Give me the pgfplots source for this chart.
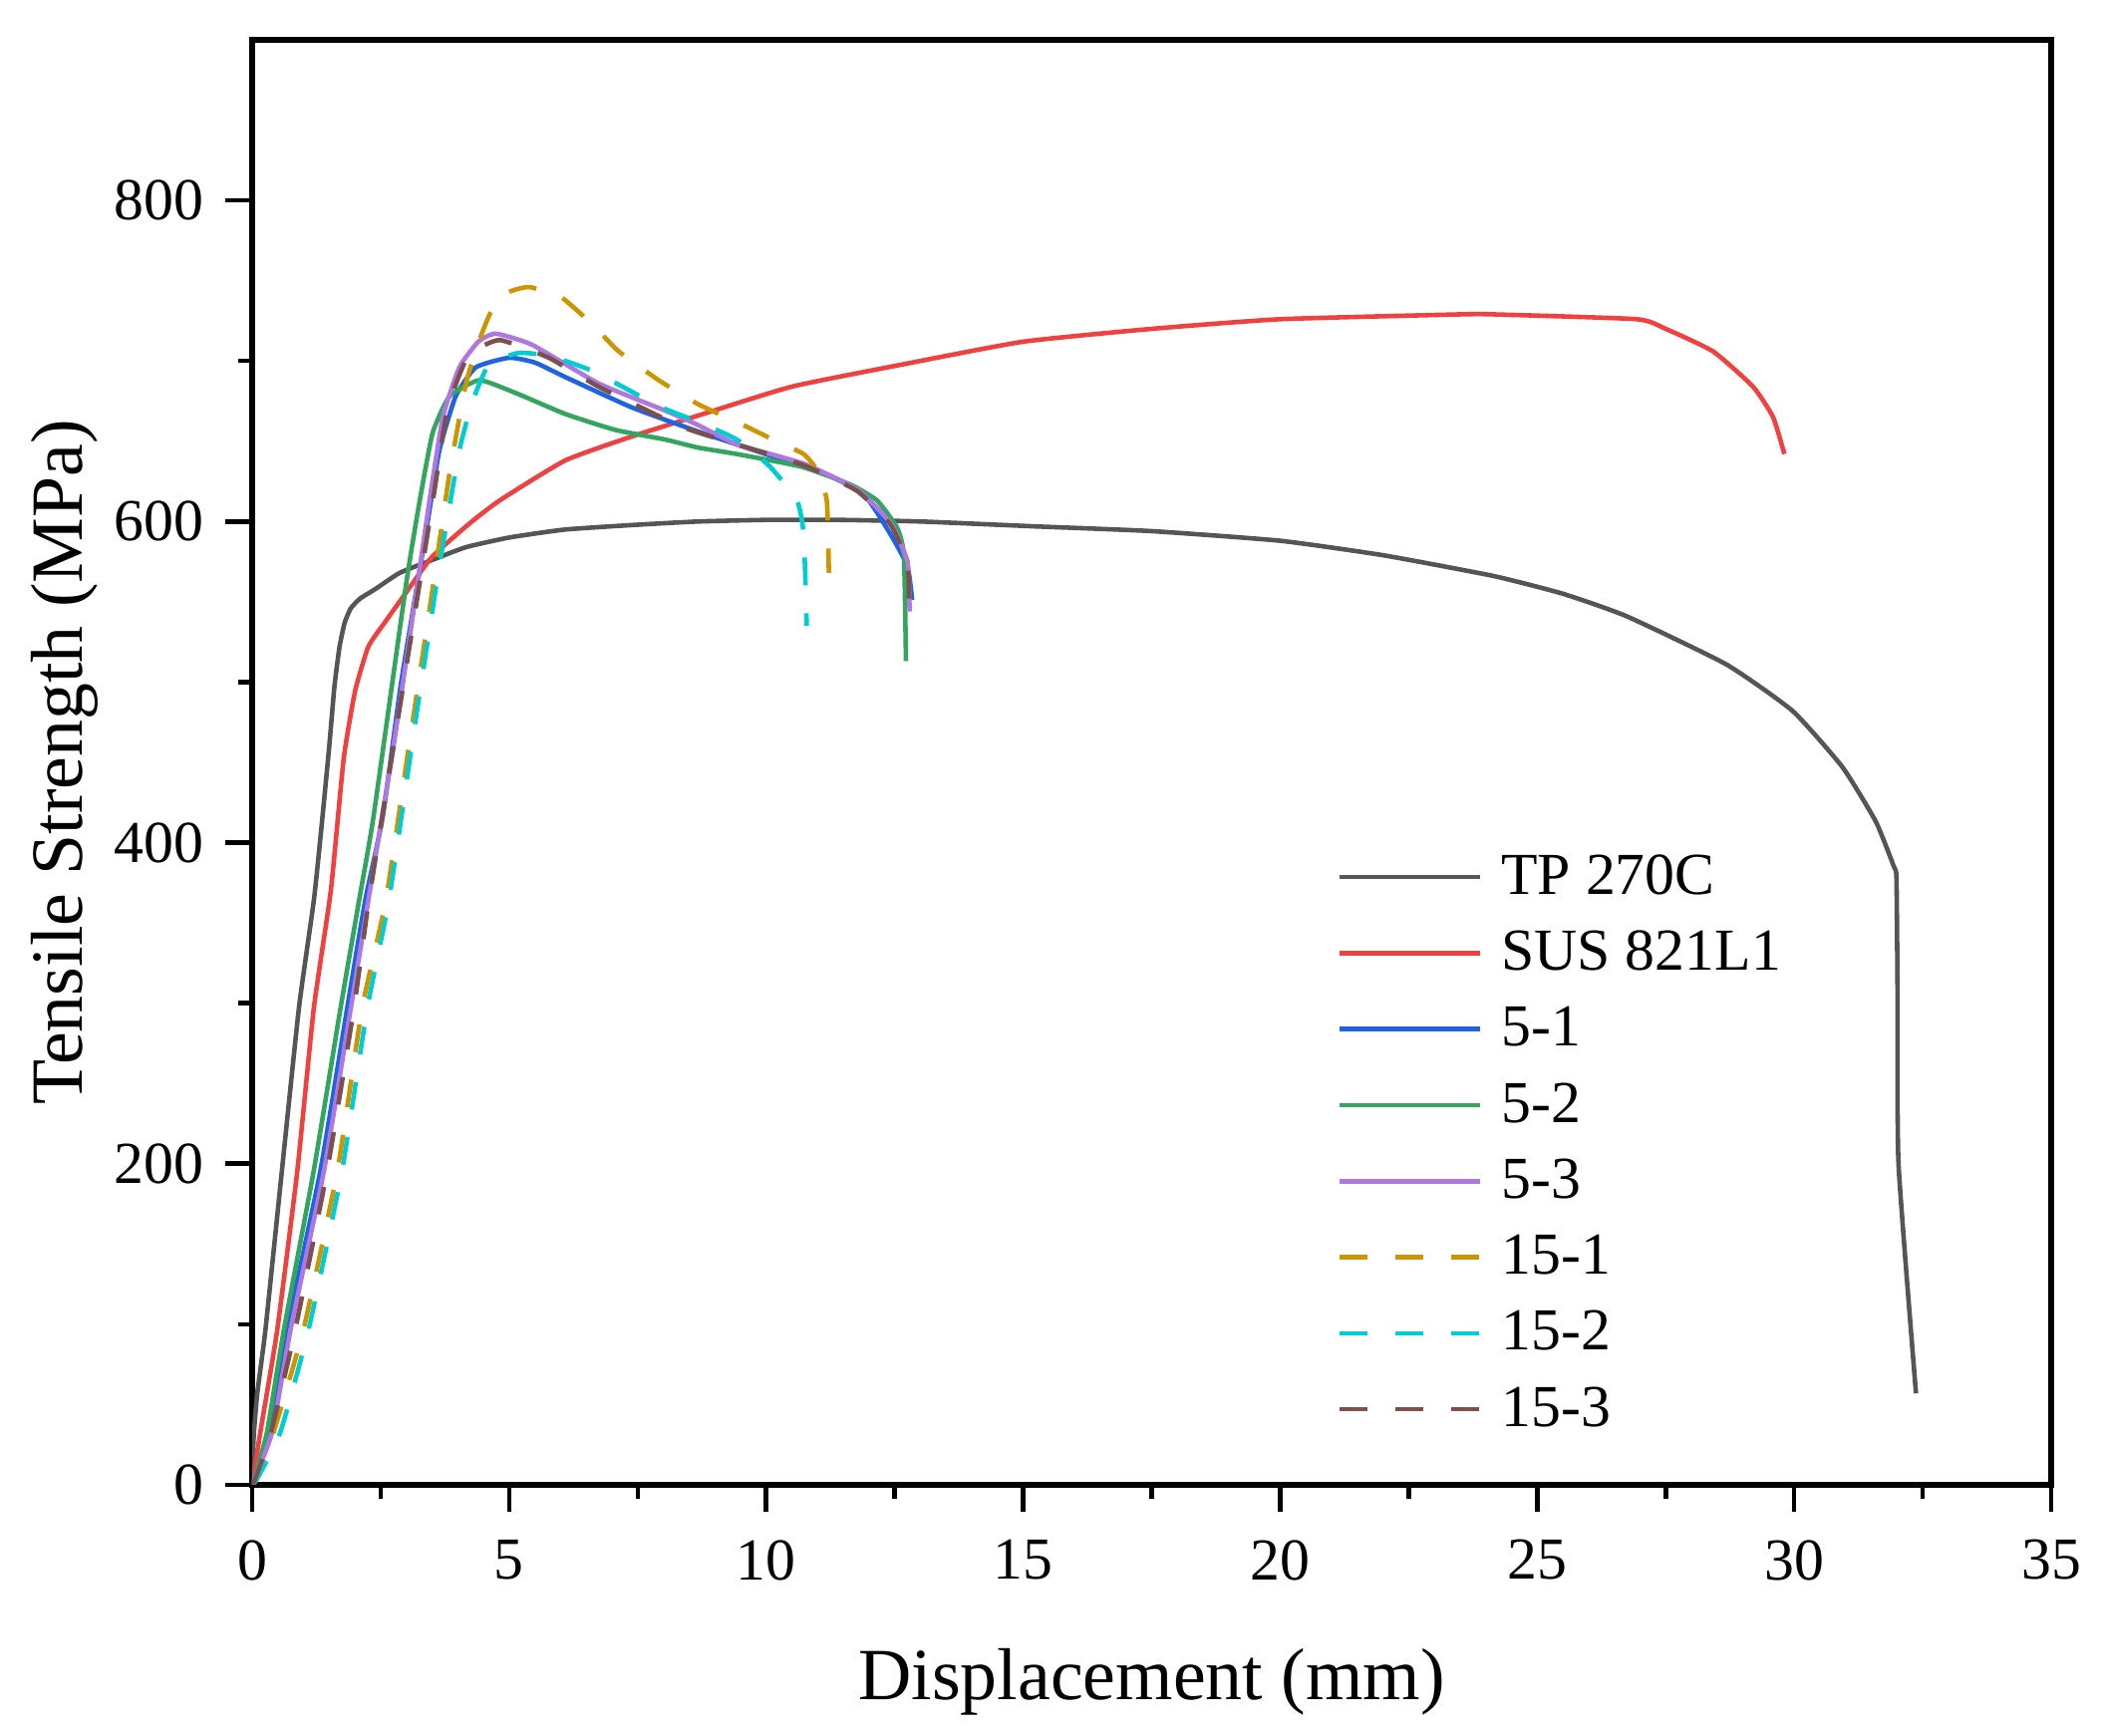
\documentclass[border=0pt]{standalone}
\usepackage{fontspec}
\setmainfont{Liberation Serif}
\usepackage{pgfplots}
\pgfplotsset{compat=1.18}
\definecolor{cgray}{RGB}{85,85,85}
\definecolor{cred}{RGB}{240,64,64}
\definecolor{cblue}{RGB}{30,100,225}
\definecolor{cgreen}{RGB}{50,165,95}
\definecolor{cpurple}{RGB}{175,120,225}
\definecolor{cgold}{RGB}{205,150,0}
\definecolor{ccyan}{RGB}{0,205,210}
\definecolor{cbrown}{RGB}{125,80,80}
\begin{document}
\begin{tikzpicture}
\begin{axis}[
  at={(0,0)}, anchor=south west, scale only axis,
  width=18.05cm, height=14.5cm,
  xmin=0, xmax=35, ymin=0, ymax=900,
  xtick={0,5,...,35}, ytick={0,200,...,800},
  minor x tick num=1, minor y tick num=1,
  tick align=outside, tick pos=left,
  major tick length=0.27cm, minor tick length=0.14cm,
  axis line style={line width=1.5pt},
  every tick/.style={line width=1.3pt, black},
  /pgf/number format/assume math mode=true,
  ticklabel style={font=\fontsize{17}{20}\selectfont},
  xticklabel style={yshift=-0.16cm},
  yticklabel style={xshift=-0.09cm},
  label style={font=\fontsize{21}{25}\selectfont},
  xlabel={Displacement (mm)}, ylabel={Tensile Strength (MPa)},
  xlabel style={at={(axis description cs:0.5,-0.1365)}, anchor=center},
  ylabel style={at={(axis description cs:-0.1040,0.5)}, anchor=center},
  legend cell align=left,
  legend image code/.code={\draw[#1] (0cm,0cm) -- (1.41cm,0cm);},
  legend style={at={(axis cs:21.1,395)}, anchor=north west, draw=none, fill=none,
    font=\fontsize{17}{20}\selectfont, row sep=0.255cm, inner sep=0pt,
    nodes={inner sep=0.03cm},
    /tikz/every odd column/.append style={column sep=0.16cm}},
  every axis plot/.append style={line width=1.3pt, smooth, tension=0.3},
]
\addplot[cgray] coordinates {(0,0) (0.03,30) (0.1,57) (0.26,97) (0.58,196) (0.91,297) (1.2,364) (1.35,410) (1.5,460) (1.6,497) (1.7,522) (1.8,537) (1.92,546) (2.1,552) (2.4,558) (2.87,568) (3.5,576) (4.16,584) (5,590) (6.09,595) (7.5,598) (8.68,600) (10,601) (11.4,601) (13,600) (15.2,597) (17.5,594) (20,588) (22,579) (24.16,566) (25.5,555) (26.74,541) (28.68,511) (29.97,482) (30.94,447) (31.59,413) (31.94,385) (31.99,378) (32.01,310) (32.03,200) (32.37,57)};
\addlegendentry{TP 270C}
\addplot[cred] coordinates {(0,0) (0.16,33) (0.49,97) (0.88,196) (1.2,297) (1.53,370) (1.78,452) (2.0,494) (2.26,522) (2.6,538) (3.0,556) (3.5,578) (4.2,598) (4.81,613) (6.09,638) (7.39,653) (8.68,666) (10.5,684) (12.68,698) (15,712) (17.5,720) (20,726) (23.5,729) (24.16,729) (26.94,726) (27.5,720) (28.42,706) (29.2,684) (29.59,665) (29.81,642)};
\addlegendentry{SUS 821L1}
\addplot[cblue] coordinates {(0,0) (0.05,5) (0.32,33) (0.68,97) (1.33,196) (1.85,297) (2.2,364) (2.54,416) (2.9,500) (3.38,593) (3.64,644) (3.96,678) (4.35,696) (5.0,702) (5.5,699) (6.09,690) (7.39,671) (8.68,656) (10.08,641) (11.12,630) (11.9,617) (12.42,592) (12.75,572) (12.84,551)};
\addlegendentry{5-1}
\addplot[cgreen] coordinates {(0,0) (0.05,5) (0.29,33) (0.62,97) (1.2,196) (1.72,297) (2.08,364) (2.36,416) (3.0,562) (3.26,613) (3.51,655) (3.84,678) (4.42,688) (5.13,680) (6.09,667) (7.07,657) (8.04,651) (8.68,646) (9.43,642) (10.7,634) (11.64,623) (12.16,613) (12.55,596) (12.68,579) (12.72,513)};
\addlegendentry{5-2}
\addplot[cpurple] coordinates {(0,0) (0.05,4) (0.39,33) (0.75,97) (1.4,196) (1.92,297) (2.26,364) (2.75,460) (3.22,562) (3.45,613) (3.71,665) (4.03,696) (4.4,712) (4.74,717) (5.45,710) (6.74,686) (8.04,669) (8.68,660) (9.43,648) (10.73,636) (11.77,620) (12.42,599) (12.75,575) (12.79,544)};
\addlegendentry{5-3}
\addplot[cgold, dash pattern=on 0.28cm off 0.28cm] coordinates {(0,0) (0.1,5) (0.42,33) (1.0,97) (1.66,196) (2.14,297) (2.6,364) (3.05,460) (3.51,558) (3.84,630) (4.16,686) (4.42,713) (4.68,733) (5.0,743) (5.39,746) (6.0,740) (6.61,723) (7.13,706) (7.91,688) (8.68,673) (9.43,662) (10.2,650) (10.73,642) (10.99,632) (11.18,613) (11.22,568)};
\addlegendentry{15-1}
\addplot[ccyan, dash pattern=on 0.28cm off 0.28cm] coordinates {(0,0) (0.1,4) (0.55,33) (1.1,97) (1.75,196) (2.24,297) (2.66,364) (3.15,470) (3.64,572) (4.03,644) (4.29,675) (4.61,698) (5.19,705) (5.8,703) (6.61,694) (7.26,683) (7.97,671) (8.68,662) (9.43,651) (10.08,634) (10.6,613) (10.73,592) (10.79,535)};
\addlegendentry{15-2}
\addplot[cbrown, dash pattern=on 0.28cm off 0.28cm] coordinates {(0,0) (0.05,3) (0.37,33) (0.84,97) (1.46,196) (1.98,297) (2.27,364) (2.8,470) (3.3,570) (3.55,620) (3.8,670) (4.2,703) (4.81,713) (5.77,702) (6.74,684) (8.36,659) (9.43,648) (10.73,635) (11.77,619) (12.42,598) (12.75,574) (12.78,545)};
\addlegendentry{15-3}
\end{axis}
\pgfresetboundingbox
\path[use as bounding box] (-2.53,-2.52) rectangle (18.56,14.90);
\end{tikzpicture}
\end{document}
